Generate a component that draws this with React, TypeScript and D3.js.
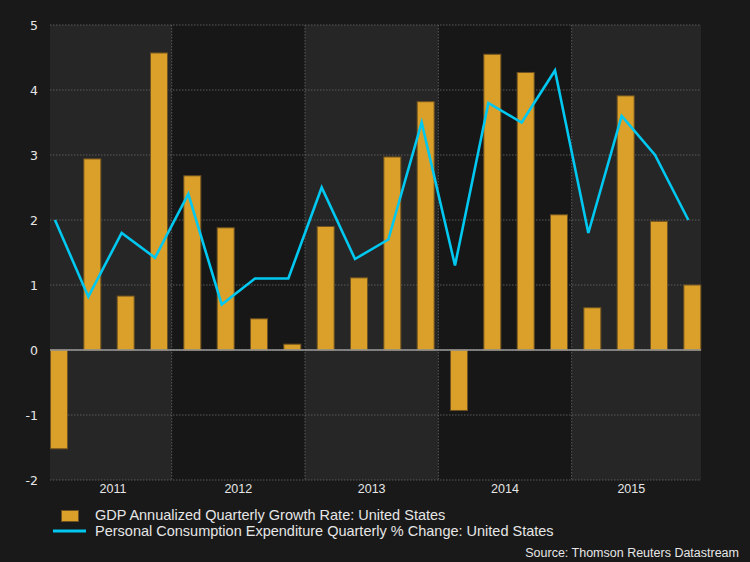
import React from "react";
import * as d3 from "d3";

const years = [2011, 2012, 2013, 2014, 2015];
const quarters = [
  "2011Q1","2011Q2","2011Q3","2011Q4",
  "2012Q1","2012Q2","2012Q3","2012Q4",
  "2013Q1","2013Q2","2013Q3","2013Q4",
  "2014Q1","2014Q2","2014Q3","2014Q4",
  "2015Q1","2015Q2","2015Q3","2015Q4",
];
const gdpGrowth = [-1.52, 2.94, 0.83, 4.57, 2.68, 1.88, 0.48, 0.09, 1.9, 1.11, 2.97, 3.82, -0.93, 4.55, 4.27, 2.08, 0.65, 3.91, 1.98, 1.0];
const pceChange = [2.0, 0.82, 1.8, 1.42, 2.4, 0.7, 1.1, 1.1, 2.5, 1.4, 1.7, 3.5, 1.3, 3.8, 3.5, 4.3, 1.8, 3.6, 3.0, 2.0];
const yTicks = [-2, -1, 0, 1, 2, 3, 4, 5];
const legendLabels = [
  "GDP Annualized Quarterly Growth Rate: United States",
  "Personal Consumption Expenditure Quarterly % Change: United States",
];
const sourceText = "Source: Thomson Reuters Datastream";

const W = 750, H = 562;
const L = 50, R = 701, T = 25, B = 480;

export default function App() {
  const step = (R - L) / 19.53;
  const x = d3.scaleLinear().domain([0, 19]).range([L, L + 19 * step]);
  const y = d3.scaleLinear().domain([-2, 5]).range([B, T]);
  const barW = 17;
  const lineOff = 5;
  const line = d3.line<number>().x((_, i) => x(i) + lineOff).y((d) => y(d));

  const boundary = (k: number) => x(k - 0.5) + lineOff;
  const bands = years.map((yr, i) => {
    const x0 = Math.max(L, boundary(i * 4));
    const x1 = Math.min(R, boundary(i * 4 + 4));
    return { yr, x0, x1, i };
  });
  const labelX = (i: number) => {
    const c = x(i * 4 + 1.5) + lineOff;
    if (i === 0) return c + 8;
    if (i === years.length - 1) return c - 7;
    return c;
  };

  return (
    <svg width={W} height={H} style={{ position: "absolute", left: 0, top: 0, display: "block" }}>
      <rect x={0} y={0} width={W} height={H} fill="#191919" />
      {bands.map((b) => (
        <rect key={b.yr} x={b.x0} y={T} width={b.x1 - b.x0} height={B - T} fill={b.i % 2 === 0 ? "#262626" : "#171717"} />
      ))}
      {yTicks.map((t) => (
        <line key={t} x1={L} x2={R} y1={y(t)} y2={y(t)} stroke="#5a5a5a" strokeWidth={1} strokeDasharray="1.5,1.5" />
      ))}
      {bands.slice(1).map((b) => (
        <line key={b.yr} x1={b.x0} x2={b.x0} y1={T} y2={B} stroke="#5a5a5a" strokeWidth={1} strokeDasharray="1.5,1.5" />
      ))}
      {gdpGrowth.map((v, i) => (
        <rect
          key={quarters[i]}
          x={x(i) + 0.5}
          y={Math.min(y(v), y(0))}
          width={barW}
          height={Math.abs(y(v) - y(0))}
          fill="#DBA029"
          stroke="#6e5120"
          strokeWidth={1}
        />
      ))}
      <line x1={L} x2={R} y1={y(0)} y2={y(0)} stroke="#9a9a9a" strokeWidth={1.5} />
      <path d={line(pceChange) || ""} fill="none" stroke="#00C8F0" strokeWidth={2.6} strokeLinejoin="miter" />
      {yTicks.map((t) => (
        <text key={t} x={38} y={y(t) + 4.5} textAnchor="end" fill="#e6e6e6" fontFamily="DejaVu Sans, sans-serif" fontSize={12.5}>
          {t}
        </text>
      ))}
      {bands.map((b) => (
        <text key={b.yr} x={labelX(b.i)} y={493} textAnchor="middle" fill="#e6e6e6" fontFamily="Liberation Sans, Arial, sans-serif" fontSize={12.5}>
          {b.yr}
        </text>
      ))}
      <rect x={61.5} y={510.5} width={17} height={11} fill="#DBA029" stroke="#6e5120" strokeWidth={1} />
      <text x={95} y={520} fill="#e6e6e6" fontFamily="Liberation Sans, Arial, sans-serif" fontSize={14.5}>
        {legendLabels[0]}
      </text>
      <line x1={53} x2={86} y1={531} y2={531} stroke="#00C8F0" strokeWidth={3} />
      <text x={95} y={536} fill="#e6e6e6" fontFamily="Liberation Sans, Arial, sans-serif" fontSize={14.5}>
        {legendLabels[1]}
      </text>
      <text x={739} y={556.5} textAnchor="end" fill="#e6e6e6" fontFamily="Liberation Sans, Arial, sans-serif" fontSize={12.5}>
        {sourceText}
      </text>
    </svg>
  );
}
